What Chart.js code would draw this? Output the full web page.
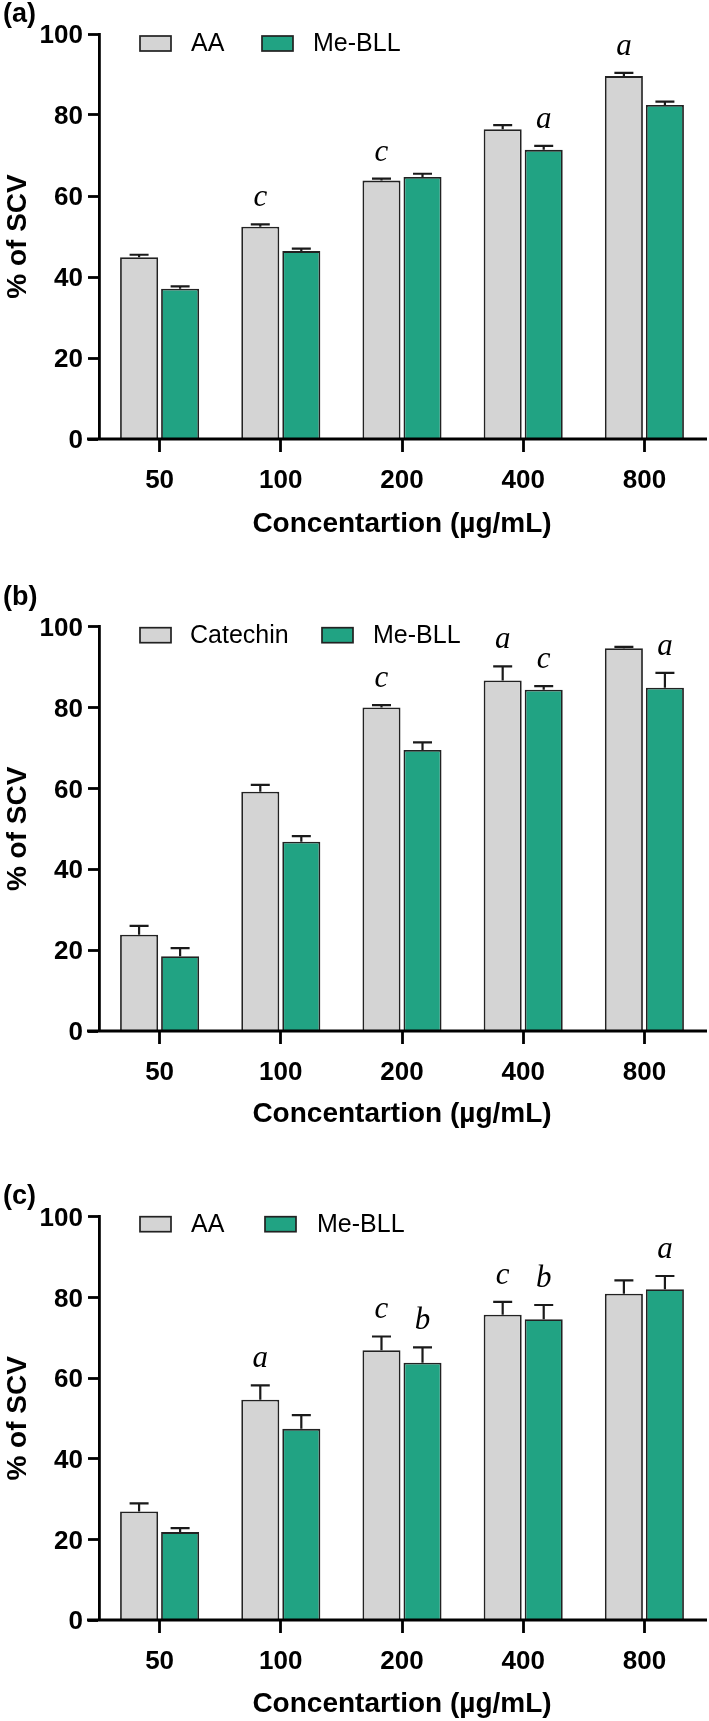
<!DOCTYPE html>
<html><head><meta charset="utf-8">
<script src="https://cdn.jsdelivr.net/npm/chart.js@4.4.1/dist/chart.umd.min.js"></script>
<style>
html,body{margin:0;padding:0;background:#fff;width:709px;height:1721px;overflow:hidden;position:relative}
canvas{position:absolute;left:0}
</style></head><body>
<canvas id="ca" width="709" height="541" style="top:0px"></canvas>
<canvas id="cb" width="709" height="551" style="top:580px"></canvas>
<canvas id="cc" width="709" height="551" style="top:1170px"></canvas>
<script>
// ---- shared ----
const categories = ['50', '100', '200', '400', '800'];
const yMin = 0, yMax = 100, yStep = 20;
const xTitle = 'Concentartion (µg/mL)';
const yTitle = '% of SCV';

// ---- panel (a) ----
const aLabel = '(a)';
const aNames = ['AA', 'Me-BLL'];
const aStd = [44.9, 52.4, 63.8, 76.5, 89.6];
const aStdErr = [0.6, 0.6, 0.5, 1.0, 0.8];
const aStdLetters = ['', 'c', 'c', '', 'a'];
const aMe = [37.1, 46.4, 64.7, 71.4, 82.5];
const aMeErr = [0.6, 0.6, 0.8, 1.0, 0.8];
const aMeLetters = ['', '', '', 'a', ''];

// ---- panel (b) ----
const bLabel = '(b)';
const bNames = ['Catechin', 'Me-BLL'];
const bStd = [23.8, 59.2, 80.0, 86.7, 94.7];
const bStdErr = [2.2, 1.7, 0.6, 3.5, 0.3];
const bStdLetters = ['', '', 'c', 'a', ''];
const bMe = [18.5, 46.8, 69.5, 84.4, 84.9];
const bMeErr = [2.0, 1.4, 1.9, 0.9, 3.7];
const bMeLetters = ['', '', '', 'c', 'a'];

// ---- panel (c) ----
const cLabel = '(c)';
const cNames = ['AA', 'Me-BLL'];
const cStd = [26.9, 54.6, 66.9, 75.7, 80.9];
const cStdErr = [2.0, 3.6, 3.4, 3.2, 3.3];
const cStdLetters = ['', 'a', 'c', 'c', ''];
const cMe = [21.8, 47.4, 63.8, 74.6, 82.0];
const cMeErr = [1.0, 3.4, 3.8, 3.5, 3.3];
const cMeLetters = ['', '', 'b', 'b', 'a'];

const GRAY = '#d4d4d4', GREEN = '#21a383', EDGE = '#222222';
const SANS = '"Liberation Sans", Arial, Helvetica, sans-serif';

const errorBarPlugin = {
  id: 'errbars',
  afterDatasetsDraw(chart) {
    const ctx = chart.ctx, ys = chart.scales.y;
    chart.data.datasets.forEach((ds, di) => {
      const meta = chart.getDatasetMeta(di);
      meta.data.forEach((bar, i) => {
        const top = ys.getPixelForValue(ds.data[i] + ds.errors[i]);
        ctx.save();
        ctx.strokeStyle = '#1a1a1a';
        ctx.lineWidth = 2.2;
        ctx.beginPath();
        ctx.moveTo(bar.x, bar.y);
        ctx.lineTo(bar.x, top);
        ctx.moveTo(bar.x - 9.5, top);
        ctx.lineTo(bar.x + 9.5, top);
        ctx.stroke();
        const L = ds.letters[i];
        if (L) {
          ctx.font = 'italic 31px "Liberation Serif", "Times New Roman", serif';
          ctx.fillStyle = '#000';
          ctx.textAlign = 'center';
          ctx.textBaseline = 'alphabetic';
          ctx.fillText(L, bar.x, top - 18);
        }
        ctx.restore();
      });
    });
  }
};

const decorPlugin = {
  id: 'decor',
  afterDraw(chart, args, o) {
    const ctx = chart.ctx, ca = chart.chartArea;
    const y0 = chart.scales.y.getPixelForValue(0);
    ctx.save();
    ctx.strokeStyle = '#000';
    ctx.lineWidth = 2.8;
    ctx.beginPath();
    ctx.moveTo(87, y0);
    ctx.lineTo(707, y0);
    ctx.stroke();
    ctx.font = 'bold 27px ' + SANS;
    ctx.fillStyle = '#000';
    ctx.textAlign = 'left';
    ctx.textBaseline = 'middle';
    ctx.fillText(o.label, 3, o.labelY);
    const by = ca.top + o.legendDy;
    chart.data.datasets.forEach((ds, i) => {
      const it = o.items[i];
      ctx.fillStyle = ds.backgroundColor;
      ctx.fillRect(it.box, by, 31, 15);
      ctx.strokeStyle = EDGE;
      ctx.lineWidth = 1.7;
      ctx.strokeRect(it.box, by, 31, 15);
      ctx.fillStyle = '#000';
      ctx.font = '25px ' + SANS;
      ctx.textBaseline = 'middle';
      ctx.fillText(ds.label, it.text, by + 8.5);
    });
    ctx.restore();
  }
};

function makeChart(id, names, std, stdErr, stdL, me, meErr, meL, panel) {
  const canvas = document.getElementById(id);
  return new Chart(canvas, {
    type: 'bar',
    data: {
      labels: categories,
      datasets: [
        { label: names[0], data: std, errors: stdErr, letters: stdL,
          backgroundColor: GRAY, borderColor: EDGE, borderWidth: 1.8, borderSkipped: 'bottom' },
        { label: names[1], data: me, errors: meErr, letters: meL,
          backgroundColor: GREEN, borderColor: EDGE, borderWidth: 1.8, borderSkipped: 'bottom' }
      ]
    },
    options: {
      responsive: false,
      animation: false,
      devicePixelRatio: 1,
      categoryPercentage: 0.677,
      barPercentage: 0.927,
      layout: { padding: { top: panel.padTop, right: 4, left: 0, bottom: 0 } },
      plugins: {
        legend: { display: false },
        tooltip: { enabled: false },
        decor: panel.decor
      },
      scales: {
        x: {
          afterFit: s => { s.height = panel.xH; },
          grid: { display: true, drawOnChartArea: false, offset: false, drawTicks: true,
                  tickLength: 13, tickWidth: 2.8, tickColor: '#000', color: '#000' },
          border: { display: false },
          ticks: { color: '#000', font: { family: SANS, size: 26, weight: 'bold' }, padding: 13, maxRotation: 0 },
          title: { display: true, text: xTitle, color: '#000', padding: { top: 0, bottom: 0 },
                   font: { family: SANS, size: 28, weight: 'bold' } }
        },
        y: {
          min: yMin, max: yMax,
          afterFit: s => { s.width = 99; },
          grid: { display: true, drawOnChartArea: false, drawTicks: true,
                  tickLength: 11, tickWidth: 2.8, tickColor: '#000', color: '#000' },
          border: { display: true, color: '#000', width: 2.8 },
          ticks: { stepSize: yStep, color: '#000', padding: 5, labelOffset: 2,
                   font: { family: SANS, size: 26, weight: 'bold' } },
          title: { display: true, text: yTitle, color: '#000', padding: { top: 1, bottom: 0 },
                   font: { family: SANS, size: 28, weight: 'bold' } }
        }
      }
    },
    plugins: [errorBarPlugin, decorPlugin]
  });
}

makeChart('ca', aNames, aStd, aStdErr, aStdLetters, aMe, aMeErr, aMeLetters, {
  padTop: 34, xH: 541 - 439,
  decor: { label: aLabel, labelY: 15, legendDy: 2, items: [{ box: 140, text: 191 }, { box: 262, text: 313 }] }
});
makeChart('cb', bNames, bStd, bStdErr, bStdLetters, bMe, bMeErr, bMeLetters, {
  padTop: 626.7 - 580, xH: 551 - (1031 - 580),
  decor: { label: bLabel, labelY: 598 - 580, legendDy: 1, items: [{ box: 140, text: 190 }, { box: 322, text: 373 }] }
});
makeChart('cc', cNames, cStd, cStdErr, cStdLetters, cMe, cMeErr, cMeLetters, {
  padTop: 1216.7 - 1170, xH: 551 - (1620 - 1170),
  decor: { label: cLabel, labelY: 1196.5 - 1170, legendDy: 0, items: [{ box: 140, text: 191 }, { box: 265, text: 317 }] }
});
</script>
</body></html>
